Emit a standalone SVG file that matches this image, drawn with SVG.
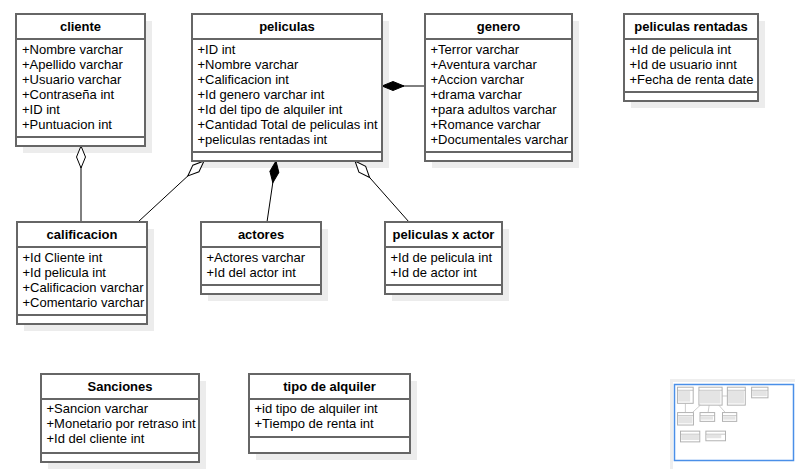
<svg xmlns="http://www.w3.org/2000/svg" width="795" height="469" viewBox="0 0 795 469">
<style>
  .shadow { fill:#ececec; }
  .box { fill:#ffffff; stroke:#666666; stroke-width:2; }
  .sep { stroke:#666666; stroke-width:2; fill:none; }
  text { font-family:"Liberation Sans", Arial, Helvetica, sans-serif; font-size:13px; fill:#000000; }
  .title { font-weight:bold; text-anchor:middle; }
  .conn { stroke:#000000; stroke-width:1; fill:none; }
  .mbox { fill:#ffffff; stroke:#b0b0b0; stroke-width:8; }
  .msep { stroke:#b0b0b0; stroke-width:6; }
  .mbar { fill:url(#rows); }
</style>
<defs>
  <marker id="diamondOpen" markerUnits="userSpaceOnUse" markerWidth="24" markerHeight="12" refX="0" refY="5" orient="auto" viewBox="-1 0 24 10">
    <path d="M0,5 L11,0.5 L22,5 L11,9.5 Z" fill="#ffffff" stroke="#000000" stroke-width="1"/>
  </marker>
  <marker id="diamondFilled" markerUnits="userSpaceOnUse" markerWidth="24" markerHeight="12" refX="0" refY="5" orient="auto" viewBox="-1 0 24 10">
    <path d="M0,5 L11,0.5 L22,5 L11,9.5 Z" fill="#000000" stroke="#000000" stroke-width="1"/>
  </marker>
  <pattern id="rows" patternUnits="userSpaceOnUse" x="0" y="0" width="400" height="15">
    <rect x="0" y="3" width="400" height="9" fill="#d2d2d2"/>
  </pattern>
</defs>
<rect width="795" height="469" fill="#ffffff"/>

<!-- shadows -->
<g id="shadows">
  <rect class="shadow" x="23" y="21" width="129" height="132"/>
  <rect class="shadow" x="199" y="21" width="190" height="147"/>
  <rect class="shadow" x="432" y="21" width="147" height="147"/>
  <rect class="shadow" x="631" y="21" width="134" height="87"/>
  <rect class="shadow" x="24" y="229" width="130" height="102"/>
  <rect class="shadow" x="208" y="229" width="120" height="72"/>
  <rect class="shadow" x="392" y="229" width="117" height="72"/>
  <rect class="shadow" x="48" y="381" width="158" height="88"/>
  <rect class="shadow" x="256" y="381" width="161" height="79"/>
</g>

<g id="connectors">
  <path class="conn" d="M81,146 L81,222" marker-start="url(#diamondOpen)"/>
  <path class="conn" d="M204,161 L138,222" marker-start="url(#diamondOpen)"/>
  <path class="conn" d="M276,161 L267,222" marker-start="url(#diamondFilled)"/>
  <path class="conn" d="M355,161 L409,222" marker-start="url(#diamondOpen)"/>
  <path class="conn" d="M382,86 L425,86" marker-start="url(#diamondFilled)"/>
</g>

<g id="cliente">
  <rect class="box" x="16" y="14" width="129" height="132"/>
  <line class="sep" x1="16" y1="39" x2="145" y2="39"/>
  <line class="sep" x1="16" y1="137" x2="145" y2="137"/>
  <text class="title" x="80.5" y="31">cliente</text>
  <text x="22" y="54">+Nombre varchar</text>
  <text x="22" y="69">+Apellido varchar</text>
  <text x="22" y="84">+Usuario varchar</text>
  <text x="22" y="99">+Contraseña int</text>
  <text x="22" y="114">+ID int</text>
  <text x="22" y="129">+Puntuacion int</text>
</g>

<g id="peliculas">
  <rect class="box" x="192" y="14" width="190" height="147"/>
  <line class="sep" x1="192" y1="39" x2="382" y2="39"/>
  <line class="sep" x1="192" y1="152" x2="382" y2="152"/>
  <text class="title" x="287" y="31">peliculas</text>
  <text x="197.5" y="54">+ID int</text>
  <text x="197.5" y="69">+Nombre varchar</text>
  <text x="197.5" y="84">+Calificacion int</text>
  <text x="197.5" y="99">+Id genero varchar int</text>
  <text x="197.5" y="114">+Id del tipo de alquiler int</text>
  <text x="197.5" y="129">+Cantidad Total de peliculas int</text>
  <text x="197.5" y="144">+peliculas rentadas int</text>
</g>

<g id="genero">
  <rect class="box" x="425" y="14" width="147" height="147"/>
  <line class="sep" x1="425" y1="39" x2="572" y2="39"/>
  <line class="sep" x1="425" y1="152" x2="572" y2="152"/>
  <text class="title" x="498.5" y="31">genero</text>
  <text x="430.5" y="54">+Terror varchar</text>
  <text x="430.5" y="69">+Aventura varchar</text>
  <text x="430.5" y="84">+Accion varchar</text>
  <text x="430.5" y="99">+drama varchar</text>
  <text x="430.5" y="114">+para adultos varchar</text>
  <text x="430.5" y="129">+Romance varchar</text>
  <text x="430.5" y="144">+Documentales varchar</text>
</g>

<g id="peliculas-rentadas">
  <rect class="box" x="624" y="14" width="134" height="87"/>
  <line class="sep" x1="624" y1="39" x2="758" y2="39"/>
  <line class="sep" x1="624" y1="92" x2="758" y2="92"/>
  <text class="title" x="691" y="31">peliculas rentadas</text>
  <text x="629.5" y="54">+Id de pelicula int</text>
  <text x="629.5" y="69">+Id de usuario innt</text>
  <text x="629.5" y="84">+Fecha de renta date</text>
</g>

<g id="calificacion">
  <rect class="box" x="17" y="222" width="130" height="102"/>
  <line class="sep" x1="17" y1="247" x2="147" y2="247"/>
  <line class="sep" x1="17" y1="315" x2="147" y2="315"/>
  <text class="title" x="82" y="239">calificacion</text>
  <text x="22.5" y="262">+Id Cliente int</text>
  <text x="22.5" y="277">+Id pelicula int</text>
  <text x="22.5" y="292">+Calificacion varchar</text>
  <text x="22.5" y="307">+Comentario varchar</text>
</g>

<g id="actores">
  <rect class="box" x="201" y="222" width="120" height="72"/>
  <line class="sep" x1="201" y1="247" x2="321" y2="247"/>
  <line class="sep" x1="201" y1="285" x2="321" y2="285"/>
  <text class="title" x="261" y="239">actores</text>
  <text x="206.5" y="262">+Actores varchar</text>
  <text x="206.5" y="277">+Id del actor int</text>
</g>

<g id="peliculas-x-actor">
  <rect class="box" x="385" y="222" width="117" height="72"/>
  <line class="sep" x1="385" y1="247" x2="502" y2="247"/>
  <line class="sep" x1="385" y1="285" x2="502" y2="285"/>
  <text class="title" x="443.5" y="239">peliculas x actor</text>
  <text x="390.5" y="262">+Id de pelicula int</text>
  <text x="390.5" y="277">+Id de actor int</text>
</g>

<g id="sanciones">
  <rect class="box" x="41" y="374" width="158" height="88"/>
  <line class="sep" x1="41" y1="399" x2="199" y2="399"/>
  <line class="sep" x1="41" y1="453" x2="199" y2="453"/>
  <text class="title" x="120" y="391">Sanciones</text>
  <text x="46.5" y="413">+Sancion varchar</text>
  <text x="46.5" y="428">+Monetario por retraso int</text>
  <text x="46.5" y="443">+Id del cliente int</text>
</g>

<g id="tipo-de-alquiler">
  <rect class="box" x="249" y="374" width="161" height="79"/>
  <line class="sep" x1="249" y1="399" x2="410" y2="399"/>
  <line class="sep" x1="249" y1="437" x2="410" y2="437"/>
  <text class="title" x="329.5" y="391">tipo de alquiler</text>
  <text x="254.5" y="413">+id tipo de alquiler int</text>
  <text x="254.5" y="428">+Tiempo de renta int</text>
</g>

<g id="outline-panel">
  <rect x="670" y="379" width="125" height="90" fill="#eeeeee"/>
  <rect x="673" y="382" width="122" height="87" fill="#ffffff"/>
  <g transform="translate(675.5,385.5) scale(0.122)">
    <rect class="mbox" x="16" y="14" width="129" height="132"/>
    <line class="msep" x1="16" y1="39" x2="145" y2="39"/>
    <rect class="mbar" x="22" y="45" width="98" height="87"/>
    <rect class="mbox" x="192" y="14" width="190" height="147"/>
    <line class="msep" x1="192" y1="39" x2="382" y2="39"/>
    <rect class="mbar" x="198" y="45" width="170" height="102"/>
    <rect class="mbox" x="425" y="14" width="147" height="147"/>
    <line class="msep" x1="425" y1="39" x2="572" y2="39"/>
    <rect class="mbar" x="431" y="45" width="130" height="102"/>
    <rect class="mbox" x="624" y="14" width="134" height="87"/>
    <line class="msep" x1="624" y1="39" x2="758" y2="39"/>
    <rect class="mbar" x="630" y="45" width="118" height="42"/>
    <rect class="mbox" x="17" y="222" width="130" height="102"/>
    <line class="msep" x1="17" y1="247" x2="147" y2="247"/>
    <rect class="mbar" x="23" y="253" width="115" height="57"/>
    <rect class="mbox" x="201" y="222" width="120" height="72"/>
    <line class="msep" x1="201" y1="247" x2="321" y2="247"/>
    <rect class="mbar" x="207" y="253" width="100" height="27"/>
    <rect class="mbox" x="385" y="222" width="117" height="72"/>
    <line class="msep" x1="385" y1="247" x2="502" y2="247"/>
    <rect class="mbar" x="391" y="253" width="100" height="27"/>
    <rect class="mbox" x="41" y="374" width="158" height="88"/>
    <line class="msep" x1="41" y1="399" x2="199" y2="399"/>
    <rect class="mbar" x="47" y="405" width="145" height="42"/>
    <rect class="mbox" x="249" y="374" width="161" height="79"/>
    <line class="msep" x1="249" y1="399" x2="410" y2="399"/>
    <rect class="mbar" x="255" y="405" width="120" height="27"/>
    <path d="M81,146 L81,222 M204,161 L138,222 M276,161 L267,222 M355,161 L409,222 M382,86 L425,86" stroke="#bbbbbb" stroke-width="6" fill="none"/>
  </g>
  <rect x="674.5" y="384.5" width="119" height="76" fill="none" stroke="#4a8fe8" stroke-width="1.5"/>
</g>
</svg>
